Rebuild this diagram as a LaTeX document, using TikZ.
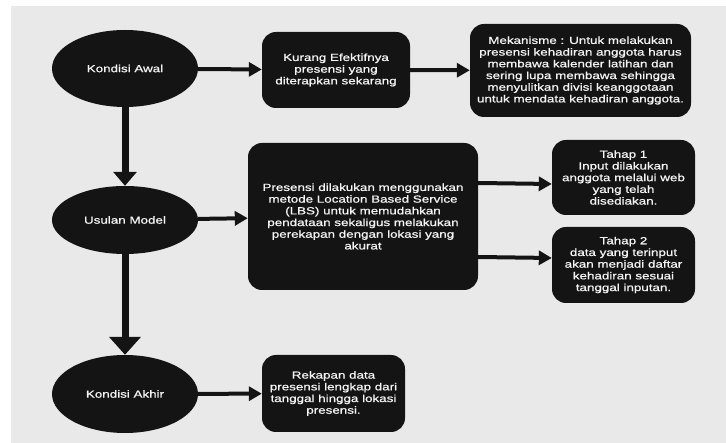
\documentclass[tikz,border=0pt]{standalone}
\usepackage{fontspec}
\setmainfont[FakeStretch=1.3,FakeBold=0.8]{Liberation Sans}
\usetikzlibrary{shapes.geometric,arrows.meta}
\definecolor{bg}{HTML}{E9E9E9}
\definecolor{ink}{HTML}{141414}
\definecolor{txt}{HTML}{F4F4F4}
\tikzset{
  oval/.style={ellipse,fill=ink,text=txt,inner sep=0pt,minimum width=146pt,font=\fontsize{10.3}{11.7}\selectfont},
  blk/.style={rectangle,rounded corners=14pt,fill=ink,text=txt,inner sep=0pt,align=center,font=\fontsize{10.3}{11.7}\selectfont},
  harrow/.style={draw=ink,line width=4pt,-{Triangle[width=14pt,length=13pt]}},
  varrowa/.style={draw=ink,line width=7pt,-{Triangle[width=23pt,length=14pt]}},
  varrowb/.style={draw=ink,line width=7pt,-{Triangle[width=31pt,length=18pt]}}
}
\begin{document}
\begin{tikzpicture}[x=1pt,y=-1pt]
\useasboundingbox (0,0) rectangle (726,443);
\fill[white] (0,0) rectangle (726,443);
\fill[bg] (11,6) rectangle (726,443);

\node[oval,minimum height=77pt] (ka) at (125,68.5) {Kondisi Awal};
\node[oval,minimum height=68pt] (um) at (125,220) {Usulan Model};
\node[oval,minimum height=78pt] (kak) at (125,394) {Kondisi Akhir};

\node[blk,minimum width=148pt,minimum height=76pt] (kurang) at (336,70) {Kurang Efektifnya\\presensi yang\\diterapkan sekarang};
\node[blk,minimum width=221pt,minimum height=93pt] (mek) at (580.5,70.5) {Mekanisme : Untuk melakukan\\presensi kehadiran anggota harus\\membawa kalender latihan dan\\sering lupa membawa sehingga\\menyulitkan divisi keanggotaan\\untuk mendata kehadiran anggota.};
\node[blk,minimum width=230pt,minimum height=147pt] (big) at (363,216.5) {Presensi dilakukan menggunakan\\metode Location Based Service\\(LBS) untuk memudahkan\\pendataan sekaligus melakukan\\perekapan dengan lokasi yang\\akurat};
\node[blk,minimum width=143pt,minimum height=75pt] (t1) at (623.5,177.5) {Tahap 1\\Input dilakukan\\anggota melalui web\\yang telah\\disediakan.};
\node[blk,minimum width=143pt,minimum height=76pt] (t2) at (623.5,265) {Tahap 2\\data yang terinput\\akan menjadi daftar\\kehadiran sesuai\\tanggal inputan.};
\node[blk,minimum width=143pt,minimum height=77pt] (rek) at (333.5,393.5) {Rekapan data\\presensi lengkap dari\\tanggal hingga lokasi\\presensi.};

\draw[varrowa] (ka.south) -- (um.north);
\draw[varrowb] (um.south) -- (kak.north);
\draw[harrow] (ka) -- (kurang);
\draw[harrow] (kurang) -- (mek);
\draw[harrow] (um) -- (big);
\draw[harrow] (big.east |- 0,183) -- (t1.west |- 0,184);
\draw[harrow] (big.east |- 0,257) -- (t2.west |- 0,258);
\draw[harrow] (kak) -- (rek);
\end{tikzpicture}
\end{document}
